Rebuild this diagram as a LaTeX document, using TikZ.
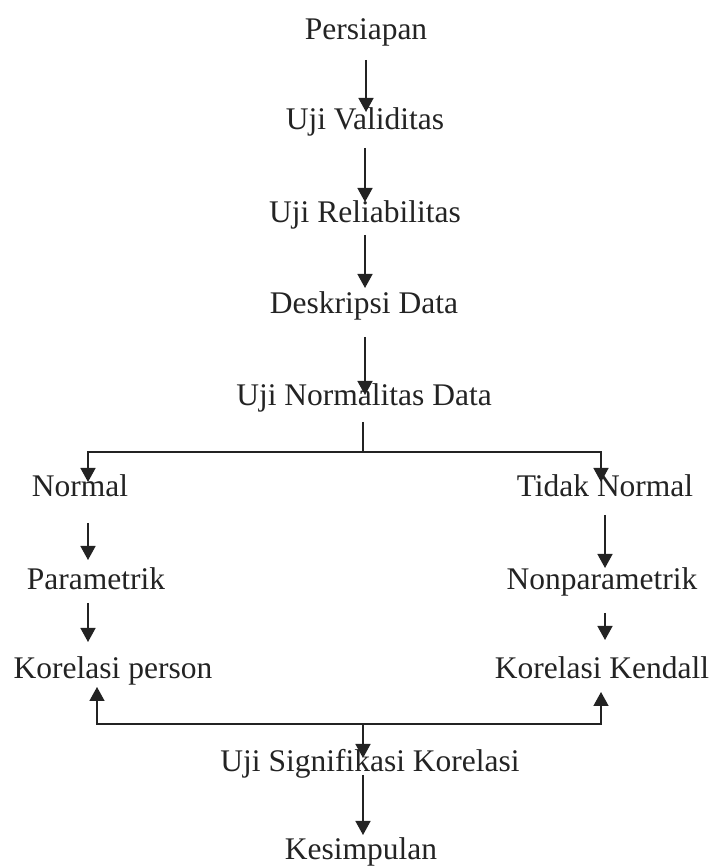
\documentclass[tikz,border=0pt]{standalone}
\usepackage{fontspec}
\setmainfont{Liberation Serif}
\usetikzlibrary{arrows.meta}
\definecolor{ink}{RGB}{35,35,35}
\begin{document}
\begin{tikzpicture}[x=1pt,y=1pt,
  lbl/.style={inner sep=0pt,anchor=base,text=ink,font=\fontsize{31.5}{36}\selectfont},
  arr/.style={draw=ink,line width=1.5pt,-{Triangle[width=15pt,length=14pt]}},
  ln/.style={draw=ink,line width=1.5pt}]
\useasboundingbox (0,0) rectangle (713,867);
\node[lbl] (persiapan) at (366,827) {Persiapan};
\node[lbl] (validitas) at (365,737) {Uji Validitas};
\node[lbl] (reliab) at (365,644) {Uji Reliabilitas};
\node[lbl] (deskripsi) at (364,553) {Deskripsi Data};
\node[lbl] (normalitas) at (364,461) {Uji Normalitas Data};
\node[lbl] (normal) at (80,370) {Normal};
\node[lbl] (tidak) at (605,370) {Tidak Normal};
\node[lbl] (param) at (96,277) {Parametrik};
\node[lbl] (nonparam) at (602,277) {Nonparametrik};
\node[lbl] (person) at (113,188) {Korelasi person};
\node[lbl] (kendall) at (602,188) {Korelasi Kendall};
\node[lbl] (signif) at (370,95) {Uji Signifikasi Korelasi};
\node[lbl] (kesimpulan) at (361,7) {Kesimpulan};
\coordinate (split) at (363,415);
\coordinate (join) at (363,143);
% main column
\draw[arr] ([yshift=-20pt]persiapan.base) -- ([xshift=1pt,yshift=18pt]validitas.base);
\draw[arr] ([yshift=-18pt]validitas.base) -- ([yshift=21pt]reliab.base);
\draw[arr] ([yshift=-12pt]reliab.base) -- ([xshift=1pt,yshift=26pt]deskripsi.base);
\draw[arr] ([xshift=1pt,yshift=-23pt]deskripsi.base) -- ([xshift=1pt,yshift=11pt]normalitas.base);
% split
\draw[ln] ([xshift=-1pt,yshift=-16pt]normalitas.base) -- (split);
\draw[arr] (split) -| ([xshift=8pt,yshift=15pt]normal.base);
\draw[arr] (split) -| ([xshift=-4pt,yshift=15pt]tidak.base);
% left column
\draw[arr] ([xshift=8pt,yshift=-26pt]normal.base) -- ([xshift=-8pt,yshift=30pt]param.base);
\draw[arr] ([xshift=-8pt,yshift=-13pt]param.base) -- ([xshift=-25pt,yshift=37pt]person.base);
% right column
\draw[arr] ([yshift=-18pt]tidak.base) -- ([xshift=3pt,yshift=22pt]nonparam.base);
\draw[arr] ([xshift=3pt,yshift=-23pt]nonparam.base) -- ([xshift=3pt,yshift=39pt]kendall.base);
% join
\draw[arr] (join) -| ([xshift=-16pt,yshift=-8pt]person.base);
\draw[arr] (join) -| ([xshift=-1pt,yshift=-13pt]kendall.base);
\draw[arr] (join) -- ([xshift=-7pt,yshift=14pt]signif.base);
\draw[arr] ([xshift=-7pt,yshift=-3pt]signif.base) -- ([xshift=2pt,yshift=25pt]kesimpulan.base);
\end{tikzpicture}
\end{document}
